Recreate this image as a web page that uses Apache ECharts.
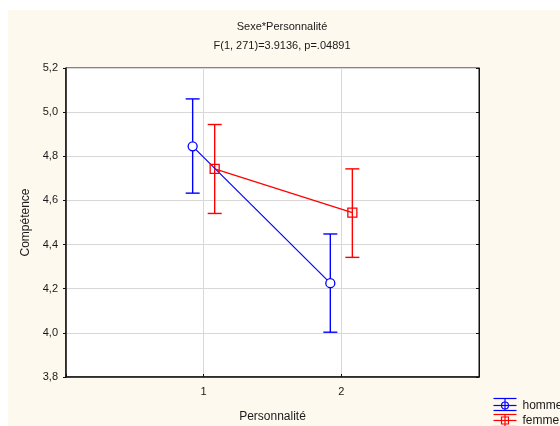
<!DOCTYPE html>
<html>
<head>
<meta charset="utf-8">
<script src="https://cdn.jsdelivr.net/npm/echarts@6/dist/echarts.min.js"></script>
<style>
html,body{margin:0;padding:0;background:#ffffff;}
#c{width:560px;height:426px;}
</style>
</head>
<body>
<div id="c"></div>
<script>
// ---- data ----
const titleLine1 = 'Sexe*Personnalité';
const titleLine2 = 'F(1, 271)=3.9136, p=.04891';
const xAxisTitle = 'Personnalité';
const yAxisTitle = 'Compétence';
const categories = [1, 2];
const seriesNames = ['homme', 'femme'];
const hommeMean = [4.845, 4.225];
const hommeLow  = [4.633, 4.003];
const hommeHigh = [5.060, 4.448];
const femmeMean = [4.743, 4.545];
const femmeLow  = [4.541, 4.342];
const femmeHigh = [4.944, 4.743];
const yTicks = [3.8, 4.0, 4.2, 4.4, 4.6, 4.8, 5.0, 5.2];

// ---- style ----
const FONT = "'Liberation Sans', Arial, sans-serif";
const TXT = '#1a1a1a';
const BLUE = '#0000ff';
const RED = '#ff0000';
const DODGE = 0.08;
const CAP = 7;

const chart = echarts.init(document.getElementById('c'));

function pts(mean, off) {
  return categories.map((c, i) => [c + off, mean[i]]);
}
function errData(low, high, off) {
  return categories.map((c, i) => [c + off, low[i], high[i]]);
}
function errSeries(name, data, color) {
  return {
    type: 'custom',
    name: name,
    silent: true,
    z: 3,
    data: data,
    encode: { x: 0, y: [1, 2] },
    renderItem: function (params, api) {
      const x = api.value(0);
      const lo = api.coord([x, api.value(1)]);
      const hi = api.coord([x, api.value(2)]);
      const st = { stroke: color, lineWidth: 1.4 };
      return {
        type: 'group',
        children: [
          { type: 'line', shape: { x1: lo[0], y1: lo[1], x2: hi[0], y2: hi[1] }, style: st },
          { type: 'line', shape: { x1: lo[0] - CAP, y1: lo[1], x2: lo[0] + CAP, y2: lo[1] }, style: st },
          { type: 'line', shape: { x1: hi[0] - CAP, y1: hi[1], x2: hi[0] + CAP, y2: hi[1] }, style: st }
        ]
      };
    }
  };
}

const yMin = yTicks[0], yMax = yTicks[yTicks.length - 1];

const option = {
  animation: false,
  backgroundColor: '#ffffff',
  graphic: [
    { type: 'rect', z: -10, shape: { x: 8, y: 10, width: 560, height: 430 }, style: { fill: '#fef9ef' } },
    // legend
    { type: 'group', left: 491, top: 396, z: 10, children: [
      { type: 'line', shape: { x1: 0, y1: 1, x2: 23, y2: 1 }, style: { stroke: BLUE, lineWidth: 1.2 } },
      { type: 'line', shape: { x1: 0, y1: 8, x2: 23, y2: 8 }, style: { stroke: BLUE, lineWidth: 1.2 } },
      { type: 'line', shape: { x1: 0, y1: 13, x2: 23, y2: 13 }, style: { stroke: BLUE, lineWidth: 1.2 } },
      { type: 'line', shape: { x1: 11.5, y1: 1, x2: 11.5, y2: 13 }, style: { stroke: BLUE, lineWidth: 1.2 } },
      { type: 'circle', shape: { cx: 11.5, cy: 8, r: 3.5 }, style: { stroke: BLUE, fill: 'none', lineWidth: 1.2 } },
      { type: 'text', x: 29, y: 8, style: { text: seriesNames[0], font: '12px ' + FONT, fill: TXT, textVerticalAlign: 'middle' } }
    ]},
    { type: 'group', left: 491, top: 412, z: 10, children: [
      { type: 'line', shape: { x1: 0, y1: 1, x2: 23, y2: 1 }, style: { stroke: RED, lineWidth: 1.2 } },
      { type: 'line', shape: { x1: 0, y1: 7, x2: 23, y2: 7 }, style: { stroke: RED, lineWidth: 1.2 } },
      { type: 'line', shape: { x1: 0, y1: 13, x2: 23, y2: 13 }, style: { stroke: RED, lineWidth: 1.2 } },
      { type: 'line', shape: { x1: 11.5, y1: 1, x2: 11.5, y2: 14 }, style: { stroke: RED, lineWidth: 1.2 } },
      { type: 'rect', shape: { x: 8, y: 3.5, width: 7, height: 7 }, style: { stroke: RED, fill: 'none', lineWidth: 1.2 } },
      { type: 'text', x: 29, y: 7, style: { text: seriesNames[1], font: '12px ' + FONT, fill: TXT, textVerticalAlign: 'middle' } }
    ]}
  ],
  title: {
    text: titleLine1 + '\n' + titleLine2,
    left: 282,
    textAlign: 'center',
    top: 17,
    padding: 0,
    textStyle: { fontFamily: FONT, fontSize: 11, fontWeight: 'normal', color: TXT, lineHeight: 19, align: 'center' }
  },
  grid: {
    left: 66, right: 81, top: 68, bottom: 49,
    containLabel: false,
    outerBoundsMode: 'none',
    show: true, backgroundColor: '#ffffff', borderColor: '#111111', borderWidth: 1
  },
  xAxis: {
    type: 'value',
    min: 0, max: 3, interval: 1,
    name: xAxisTitle,
    nameLocation: 'middle',
    nameGap: 34,
    nameTextStyle: { fontFamily: FONT, fontSize: 12, color: TXT },
    axisLine: { show: true, onZero: false, lineStyle: { color: '#111111', width: 1.5 } },
    axisTick: { show: true, inside: true, length: 3, lineStyle: { color: '#111111' } },
    axisLabel: {
      fontFamily: FONT, fontSize: 11, color: TXT, margin: 9,
      formatter: v => (categories.indexOf(v) >= 0 ? String(v) : '')
    },
    splitLine: { show: true, lineStyle: { color: '#d8d8d8', width: 1 } }
  },
  yAxis: [{
    type: 'value',
    min: yMin, max: yMax, interval: 0.2,
    name: yAxisTitle,
    nameLocation: 'middle',
    nameGap: 30,
    nameTextStyle: { fontFamily: FONT, fontSize: 12, color: TXT },
    axisLine: { show: true, lineStyle: { color: '#111111', width: 1.5 } },
    axisTick: { show: true, length: 3, lineStyle: { color: '#111111' } },
    axisLabel: {
      fontFamily: FONT, fontSize: 11, color: TXT, margin: 8,
      formatter: v => v.toFixed(1).replace('.', ',')
    },
    splitLine: { show: true, lineStyle: { color: '#d8d8d8', width: 1 } }
  }, {
    type: 'value',
    position: 'right',
    min: yMin, max: yMax, interval: 0.2,
    axisLine: { show: true, lineStyle: { color: '#111111', width: 1 } },
    axisTick: { show: true, inside: true, length: 3, lineStyle: { color: '#111111' } },
    axisLabel: { show: false },
    splitLine: { show: false }
  }],
  series: [
    errSeries(seriesNames[0] + ' err', errData(hommeLow, hommeHigh, -DODGE), BLUE),
    errSeries(seriesNames[1] + ' err', errData(femmeLow, femmeHigh, DODGE), RED),
    {
      type: 'line', name: seriesNames[0], z: 4,
      data: pts(hommeMean, -DODGE),
      symbol: 'circle', symbolSize: 9,
      lineStyle: { color: BLUE, width: 1.2 },
      itemStyle: { color: '#ffffff', borderColor: BLUE, borderWidth: 1.3 }
    },
    {
      type: 'line', name: seriesNames[1], z: 4,
      data: pts(femmeMean, DODGE),
      symbol: 'rect', symbolSize: 9,
      lineStyle: { color: RED, width: 1.2 },
      itemStyle: { color: 'rgba(255,255,255,0)', borderColor: RED, borderWidth: 1.3 }
    }
  ]
};
chart.setOption(option);
</script>
</body>
</html>
